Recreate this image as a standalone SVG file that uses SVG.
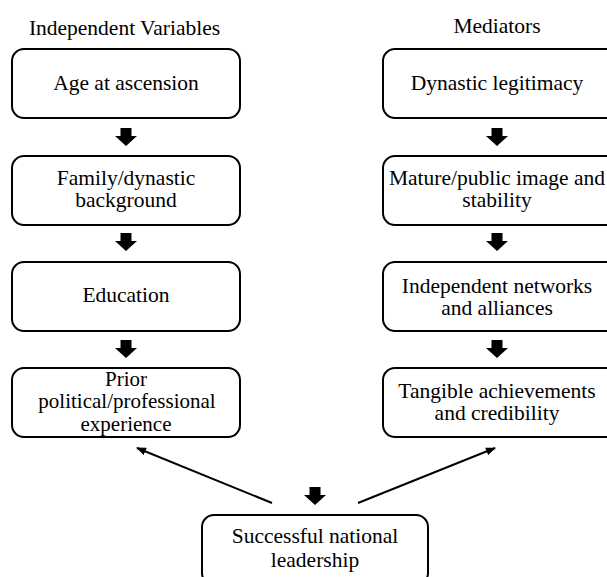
<svg xmlns="http://www.w3.org/2000/svg" width="607" height="577" viewBox="0 0 607 577">
<defs>
<style>
.box{fill:#fff;stroke:#000;stroke-width:2}
.blk{fill:#000}
.ln{stroke:#000;stroke-width:2;fill:none}
</style>
<path id="ba" d="M-5.5,0 H5.5 V8 H11 L0,18 L-11,8 H-5.5 Z"/>
<marker id="ah" markerWidth="10" markerHeight="8" refX="9" refY="4" orient="auto" markerUnits="userSpaceOnUse">
<path d="M0,0 L10,4 L0,8 Z" fill="#000"/>
</marker>
</defs>
<rect width="607" height="577" fill="#fff"/>
<g font-family="Liberation Serif, 'Times New Roman', serif" font-size="21.5" text-anchor="middle" fill="#000">
<text x="124.5" y="35">Independent Variables</text>
<text x="497" y="33">Mediators</text>
<g id="n-age"><rect class="box" x="12" y="49" width="228" height="69" rx="12"/><text x="126" y="90">Age at ascension</text></g>
<g id="n-family"><rect class="box" x="12" y="156" width="228" height="69" rx="12"/><text x="126" y="185">Family/dynastic</text><text x="126" y="207">background</text></g>
<g id="n-education"><rect class="box" x="12" y="262" width="228" height="69" rx="12"/><text x="126" y="302">Education</text></g>
<g id="n-prior" font-size="21"><rect class="box" x="12" y="368" width="228" height="69" rx="12"/><text x="126" y="386">Prior</text><text x="127" y="408">political/professional</text><text x="126" y="430.5">experience</text></g>
<g id="n-legit"><rect class="box" x="383" y="49" width="240" height="69" rx="12"/><text x="497" y="90">Dynastic legitimacy</text></g>
<g id="n-mature"><rect class="box" x="383" y="156" width="240" height="69" rx="12"/><text x="497" y="185">Mature/public image and</text><text x="497" y="207">stability</text></g>
<g id="n-networks"><rect class="box" x="383" y="262" width="240" height="69" rx="12"/><text x="497" y="293">Independent networks</text><text x="497" y="315">and alliances</text></g>
<g id="n-tangible"><rect class="box" x="383" y="368" width="240" height="69" rx="12"/><text x="497" y="398">Tangible achievements</text><text x="497" y="420">and credibility</text></g>
<g id="n-success"><rect class="box" x="202" y="515" width="226" height="70" rx="12"/><text x="315" y="543">Successful national</text><text x="315" y="567">leadership</text></g>
</g>
<g id="connectors">
<use href="#ba" class="blk" x="126" y="128"/>
<use href="#ba" class="blk" x="126" y="233"/>
<use href="#ba" class="blk" x="126" y="340"/>
<use href="#ba" class="blk" x="497" y="128"/>
<use href="#ba" class="blk" x="497" y="233"/>
<use href="#ba" class="blk" x="497" y="340"/>
<use href="#ba" class="blk" x="315" y="487"/>
<line class="ln" x1="272" y1="503" x2="137" y2="448" marker-end="url(#ah)"/>
<line class="ln" x1="358" y1="503" x2="495" y2="448" marker-end="url(#ah)"/>
</g>
</svg>
